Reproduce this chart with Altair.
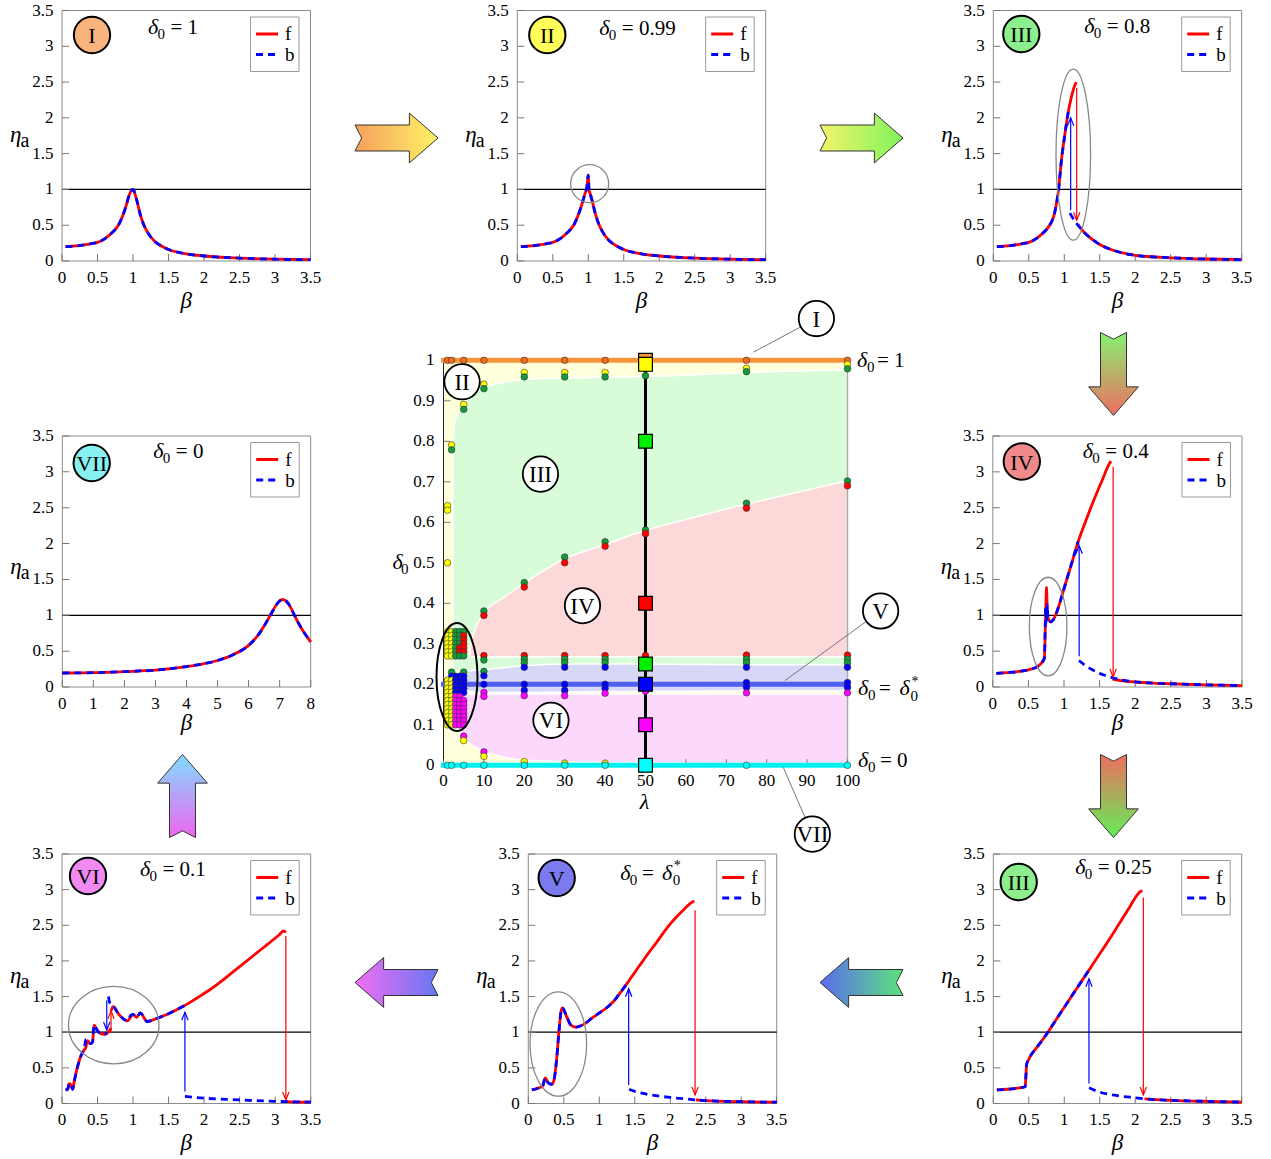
import altair as alt
import pandas as pd

W, H = 1271, 1159
SERIF = "Liberation Serif"
RED = "#ff0000"
BLUE = "#0000ff"
DASH = [7, 5]

ETA_TICKS = [0, 0.5, 1, 1.5, 2, 2.5, 3, 3.5]
BETA_TICKS = [0, 0.5, 1, 1.5, 2, 2.5, 3, 3.5]
BETA8_TICKS = [0, 1, 2, 3, 4, 5, 6, 7, 8]
LAM_TICKS = [0, 10, 20, 30, 40, 50, 60, 70, 80, 90, 100]
DEL_TICKS = [0, 0.1, 0.2, 0.3, 0.4, 0.5, 0.6, 0.7, 0.8, 0.9, 1]

# ---------------- amplitude response curves eta_a(beta) ----------------
# I : delta0 = 1 (forward and backward sweeps coincide)
p1_beta = [0.05, 0.2, 0.4, 0.5, 0.6, 0.7, 0.8, 0.85, 0.9, 0.95, 1.0, 1.05, 1.1, 1.15, 1.2, 1.3, 1.4, 1.5, 1.75, 2.0, 2.5, 3.0, 3.5]
p1_eta = [0.20, 0.21, 0.24, 0.26, 0.31, 0.39, 0.51, 0.62, 0.76, 0.93, 1.0, 0.86, 0.66, 0.51, 0.41, 0.28, 0.21, 0.16, 0.10, 0.07, 0.04, 0.025, 0.018]

# II : delta0 = 0.99
p2_beta = [0.05, 0.2, 0.4, 0.5, 0.6, 0.7, 0.8, 0.85, 0.9, 0.95, 0.98, 1.0, 1.01, 1.03, 1.05, 1.1, 1.15, 1.2, 1.3, 1.4, 1.5, 1.75, 2.0, 2.5, 3.0, 3.5]
p2_eta = [0.20, 0.21, 0.24, 0.26, 0.31, 0.39, 0.51, 0.62, 0.76, 0.93, 1.03, 1.2, 1.0, 0.93, 0.86, 0.66, 0.51, 0.41, 0.28, 0.21, 0.16, 0.10, 0.07, 0.04, 0.025, 0.018]

# III : delta0 = 0.8
p3_f1_beta = [0.05, 0.2, 0.4, 0.5, 0.6, 0.7, 0.8, 0.85, 0.89, 0.92, 0.96, 1.01, 1.056, 1.1, 1.15, 1.17]
p3_f1_eta = [0.20, 0.21, 0.24, 0.26, 0.31, 0.39, 0.51, 0.62, 0.80, 1.0, 1.41, 1.78, 2.08, 2.29, 2.46, 2.5]
p3_f2_beta = [1.19, 1.22, 1.3, 1.41, 1.5, 1.69, 2.0, 2.5, 3.0, 3.5]
p3_f2_eta = [0.51, 0.47, 0.38, 0.29, 0.23, 0.15, 0.08, 0.045, 0.028, 0.02]
p3_b1_beta = [0.05, 0.2, 0.4, 0.5, 0.6, 0.7, 0.8, 0.85, 0.89, 0.92, 0.96, 1.01, 1.056, 1.07]
p3_b1_eta = [0.20, 0.21, 0.24, 0.26, 0.31, 0.39, 0.51, 0.62, 0.80, 1.0, 1.41, 1.78, 2.08, 2.15]
p3_b2_beta = [1.08, 1.12, 1.17, 1.22, 1.3, 1.41, 1.5, 1.69, 2.0, 2.5, 3.0, 3.5]
p3_b2_eta = [0.67, 0.6, 0.53, 0.47, 0.38, 0.29, 0.23, 0.15, 0.08, 0.045, 0.028, 0.02]

# IV : delta0 = 0.4
p4_f1_beta = [0.05, 0.2, 0.4, 0.5, 0.6, 0.68, 0.72, 0.725, 0.755, 0.765, 0.78, 0.81, 0.85, 0.9, 0.95, 1.0, 1.1, 1.2, 1.3, 1.4, 1.5, 1.56, 1.6, 1.64, 1.66]
p4_f1_eta = [0.19, 0.2, 0.22, 0.24, 0.27, 0.33, 0.39, 0.42, 1.39, 1.05, 0.95, 0.91, 0.94, 1.05, 1.2, 1.37, 1.7, 2.03, 2.3, 2.56, 2.8, 2.94, 3.04, 3.12, 3.15]
p4_f2_beta = [1.68, 1.8, 2.0, 2.25, 2.5, 3.0, 3.5]
p4_f2_eta = [0.11, 0.09, 0.07, 0.055, 0.045, 0.03, 0.02]
p4_b1_beta = [0.05, 0.2, 0.4, 0.5, 0.6, 0.68, 0.72, 0.725, 0.745, 0.755, 0.765, 0.775, 0.79, 0.81, 0.85, 0.9, 0.95, 1.0, 1.1, 1.2]
p4_b1_eta = [0.19, 0.2, 0.22, 0.24, 0.27, 0.33, 0.39, 0.42, 1.12, 0.9, 1.15, 0.92, 0.92, 0.91, 0.94, 1.05, 1.2, 1.37, 1.7, 2.03]
p4_b2_beta = [1.21, 1.3, 1.4, 1.5, 1.6, 1.7, 1.8, 2.0, 2.25, 2.5, 3.0, 3.5]
p4_b2_eta = [0.37, 0.3, 0.24, 0.19, 0.155, 0.125, 0.1, 0.07, 0.055, 0.045, 0.03, 0.02]

# V : delta0 = delta0*
p5_f1_beta = [0.05, 0.15, 0.2, 0.24, 0.28, 0.33, 0.36, 0.4, 0.43, 0.465, 0.48, 0.54, 0.6, 0.67, 0.78, 0.9, 1.0, 1.1, 1.2, 1.3, 1.41, 1.5, 1.6, 1.7, 1.8, 1.9, 2.0, 2.1, 2.2, 2.3, 2.34]
p5_f1_eta = [0.19, 0.22, 0.24, 0.36, 0.29, 0.27, 0.32, 0.63, 0.99, 1.31, 1.34, 1.22, 1.1, 1.07, 1.11, 1.2, 1.27, 1.34, 1.43, 1.56, 1.71, 1.84, 1.98, 2.12, 2.25, 2.39, 2.52, 2.63, 2.73, 2.82, 2.84]
p5_f2_beta = [2.36, 2.5, 3.0, 3.5]
p5_f2_eta = [0.05, 0.04, 0.025, 0.018]
p5_b1_beta = [0.05, 0.15, 0.2, 0.24, 0.28, 0.33, 0.36, 0.4, 0.43, 0.465, 0.48, 0.54, 0.6, 0.67, 0.78, 0.9, 1.0, 1.1, 1.2, 1.3, 1.41]
p5_b1_eta = [0.19, 0.22, 0.24, 0.36, 0.29, 0.27, 0.32, 0.63, 0.99, 1.31, 1.34, 1.22, 1.1, 1.07, 1.11, 1.2, 1.27, 1.34, 1.43, 1.56, 1.71]
p5_b2_beta = [1.42, 1.5, 1.6, 1.8, 2.0, 2.2, 2.36, 2.5, 3.0, 3.5]
p5_b2_eta = [0.2, 0.17, 0.145, 0.11, 0.085, 0.065, 0.05, 0.04, 0.025, 0.018]

# VI : delta0 = 0.1
p6_f1_beta = [0.05, 0.08, 0.1, 0.12, 0.15, 0.17, 0.22, 0.28, 0.31, 0.33, 0.36, 0.4, 0.43, 0.45, 0.5, 0.55, 0.6, 0.65, 0.69]
p6_f1_eta = [0.19, 0.2, 0.28, 0.27, 0.2, 0.3, 0.52, 0.7, 0.75, 0.77, 0.88, 0.84, 0.86, 1.1, 1.02, 0.98, 0.97, 1.0, 1.06]
p6_f2_beta = [0.69, 0.72, 0.8, 0.92, 0.97, 1.0, 1.05, 1.1, 1.2, 1.35, 1.5, 1.72, 1.9, 2.1, 2.3, 2.5, 2.7, 2.9, 3.05, 3.12, 3.15]
p6_f2_eta = [1.3, 1.36, 1.25, 1.16, 1.22, 1.25, 1.21, 1.27, 1.15, 1.2, 1.26, 1.37, 1.48, 1.61, 1.76, 1.92, 2.08, 2.24, 2.36, 2.42, 2.4]
p6_f3_beta = [3.16, 3.3, 3.5]
p6_f3_eta = [0.025, 0.02, 0.018]
p6_b1_beta = [0.05, 0.08, 0.1, 0.12, 0.15, 0.17, 0.22, 0.28, 0.31, 0.34, 0.36, 0.4, 0.43, 0.45, 0.5, 0.55, 0.6, 0.63]
p6_b1_eta = [0.19, 0.2, 0.28, 0.27, 0.2, 0.3, 0.52, 0.7, 0.76, 0.9, 0.87, 0.84, 0.86, 1.1, 1.02, 0.98, 0.97, 1.0]
p6_b2_beta = [0.655, 0.67, 0.72, 0.8, 0.92, 0.97, 1.0, 1.05, 1.1, 1.2, 1.35, 1.5, 1.72]
p6_b2_eta = [1.5, 1.42, 1.37, 1.25, 1.16, 1.24, 1.25, 1.21, 1.27, 1.15, 1.2, 1.26, 1.37]
p6_b3_beta = [1.73, 2.0, 2.5, 3.0, 3.5]
p6_b3_eta = [0.1, 0.075, 0.05, 0.03, 0.02]

# VII : delta0 = 0
p7_beta = [0, 1, 2, 3, 4, 4.5, 5, 5.5, 6, 6.3, 6.5, 6.7, 6.9, 7.0, 7.1, 7.2, 7.3, 7.5, 7.7, 8.0]
p7_eta = [0.195, 0.2, 0.215, 0.235, 0.285, 0.32, 0.37, 0.45, 0.58, 0.72, 0.85, 1.0, 1.15, 1.2, 1.22, 1.2, 1.15, 0.98, 0.82, 0.63]

# III : delta0 = 0.25
p8_f1_beta = [0.05, 0.2, 0.3, 0.4, 0.45, 0.46, 0.47, 0.5, 0.52, 0.6, 0.77, 0.9, 1.1, 1.2, 1.3, 1.4, 1.5, 1.6, 1.76, 1.9, 2.04, 2.08, 2.1]
p8_f1_eta = [0.19, 0.2, 0.21, 0.225, 0.235, 0.4, 0.55, 0.62, 0.66, 0.77, 1.0, 1.2, 1.5, 1.65, 1.8, 1.95, 2.1, 2.25, 2.5, 2.72, 2.94, 2.98, 2.97]
p8_f2_beta = [2.13, 2.3, 2.5, 3.0, 3.5]
p8_f2_eta = [0.065, 0.055, 0.045, 0.03, 0.02]
p8_b1_beta = [0.05, 0.2, 0.3, 0.4, 0.45, 0.46, 0.47, 0.5, 0.52, 0.6, 0.77, 0.9, 1.1, 1.2, 1.3, 1.34]
p8_b1_eta = [0.19, 0.2, 0.21, 0.225, 0.235, 0.4, 0.55, 0.62, 0.66, 0.77, 1.0, 1.2, 1.5, 1.65, 1.8, 1.86]
p8_b2_beta = [1.35, 1.5, 1.75, 2.0, 2.13, 2.5, 3.0, 3.5]
p8_b2_eta = [0.22, 0.16, 0.11, 0.08, 0.065, 0.045, 0.03, 0.02]

# ---------------- regime map delta0(lambda) ----------------
green_lam = [2.3, 2.6, 3, 4, 5, 6, 8, 10, 15, 20, 30, 40, 50, 60, 75, 90, 100]
green_hi = [0.78, 0.83, 0.855, 0.875, 0.89, 0.902, 0.92, 0.933, 0.945, 0.952, 0.956, 0.958, 0.96, 0.963, 0.97, 0.974, 0.976]
red_lam = [6.5, 7, 8, 10, 15, 20, 30, 40, 50, 60, 75, 90, 100]
red_hi = [0.285, 0.31, 0.34, 0.375, 0.415, 0.45, 0.51, 0.545, 0.58, 0.607, 0.645, 0.68, 0.703]
blue_lam = [2, 5, 10, 20, 30, 40, 50, 60, 75, 90, 100]
blue_hi = [0.228, 0.232, 0.236, 0.246, 0.25, 0.25, 0.25, 0.249, 0.248, 0.248, 0.248]
blue_lo = [0.186, 0.184, 0.18, 0.18, 0.181, 0.182, 0.183, 0.183, 0.184, 0.184, 0.184]
mag_lam = [3, 5, 7, 10, 15, 20, 30, 40, 50, 75, 100]
mag_lo = [0.1, 0.068, 0.05, 0.035, 0.02, 0.013, 0.009, 0.007, 0.006, 0.005, 0.005]

dots_orange = [(1, 1), (2, 1), (5, 1), (10, 1), (20, 1), (30, 1), (40, 1), (50, 1), (75, 1), (100, 1)]
dots_yellow = [(1, .641), (1, .630), (1, .50), (2, .791), (5, .891), (10, .941), (20, .970), (30, .970),
               (40, .970), (75, .980), (100, .990), (5, .061), (10, .022), (20, .009), (30, .005), (40, .005)]
dots_green = [(2, .779), (5, .879), (10, .930), (20, .959), (30, .959), (40, .959), (50, .962), (75, .972), (100, .979),
              (10, .381), (20, .451), (30, .514), (40, .552), (50, .581), (75, .647), (100, .702),
              (10, .260), (10, .232), (20, .262), (20, .253), (30, .262), (30, .253), (40, .262), (40, .253),
              (75, .262), (75, .253), (100, .262), (100, .253)]
dots_red = [(10, .370), (20, .440), (30, .500), (40, .541), (50, .572), (75, .635), (100, .690),
            (10, .271), (20, .271), (30, .271), (40, .271), (50, .271), (75, .272), (100, .272)]
dots_blue = [(10, .221), (20, .242), (30, .242), (40, .242), (75, .242), (100, .242),
             (10, .200), (20, .200), (30, .200), (40, .200), (75, .204), (100, .204),
             (20, .185), (30, .185), (40, .190), (75, .193), (100, .193)]
dots_magenta = [(10, .180), (10, .170), (20, .172), (30, .172), (40, .178), (50, .183), (75, .179), (100, .179),
                (10, .033), (5, .072)]
dots_cyan = [(1, 0), (2, 0), (5, 0), (10, 0), (20, 0), (30, 0), (40, 0), (50, 0), (75, 0), (100, 0)]

# dense sweep at small lambda: delta0 rows sampled for lambda = 1..5
rows_top = [0.27, 0.28, 0.29, 0.30, 0.31, 0.32, 0.33]
rows_mid = [0.18, 0.19, 0.20, 0.21, 0.22]
rows_low = [0.10, 0.11, 0.12, 0.13, 0.14, 0.15, 0.16, 0.17]
C_OR, C_YE, C_GR, C_RE, C_BL, C_MA, C_CY = "#f26b1d", "#ffff00", "#139a3b", "#ff0000", "#0000ff", "#ff00ff", "#00ffff"
grid_cells = [
    (1, C_YE, rows_top + rows_low + [0.18, 0.19, 0.20, 0.21]),
    (2, C_YE, rows_top + rows_low + [0.18, 0.19, 0.20, 0.21]),
    (2, C_GR, [0.23]), (2, C_BL, [0.22]),
    (3, C_GR, rows_top), (3, C_BL, rows_mid), (3, C_MA, rows_low),
    (4, C_GR, [0.27, 0.30, 0.31, 0.32, 0.33]), (4, C_RE, [0.28, 0.29]), (4, C_BL, rows_mid), (4, C_MA, rows_low),
    (5, C_GR, [0.23, 0.27, 0.33]), (5, C_RE, [0.28, 0.29, 0.30, 0.31, 0.32]), (5, C_BL, rows_mid),
    (5, C_MA, [0.10, 0.11, 0.12, 0.13, 0.14, 0.15, 0.16]),
]

# operating points along lambda = 50
sq_delta = [1.0, 0.99, 0.8, 0.4, 0.25, 0.2, 0.1, 0.0]
sq_color = ["#f7963c", "#ffff00", "#00ee00", "#ff0000", "#00ee00", "#0000ff", "#ff00ff", "#00ffff"]

# ---------------- panel descriptions ----------------
PANELS = [
    dict(box=(62.0, 310.5, 10.5, 261.0), xmax=3.5, row=0, num="I", numfill="#f9b37d", circ=(30, 24.5),
         dlab=(86, 23.5), rhs="= 1", f=[(p1_beta, p1_eta)], b=[(p1_beta, p1_eta)], jumps=[], ring=None),
    dict(box=(517.3, 765.7, 10.5, 261.0), xmax=3.5, row=0, num="II", numfill="#ffff5a", circ=(30, 24.5),
         dlab=(82, 24), rhs="= 0.99", f=[(p2_beta, p2_eta)], b=[(p2_beta, p2_eta)], jumps=[],
         ring=(1.02, 1.08, 19, 19)),
    dict(box=(993.3, 1241.7, 10.5, 261.0), xmax=3.5, row=0, num="III", numfill="#8cee8c", circ=(28, 23.5),
         dlab=(91, 22), rhs="= 0.8", f=[(p3_f1_beta, p3_f1_eta), (p3_f2_beta, p3_f2_eta)],
         b=[(p3_b1_beta, p3_b1_eta), (p3_b2_beta, p3_b2_eta)],
         jumps=[(1.175, 2.42, 0.57, RED), (1.09, 0.71, 2.0, BLUE)], ring=(1.127, 1.487, 17.3, 85.5)),
    dict(box=(62.3, 310.7, 436.0, 687.0), xmax=8, row=1, num="VII", numfill="#88f0f0", circ=(29.4, 27),
         dlab=(91, 21.6), rhs="= 0", f=[(p7_beta, p7_eta)], b=[(p7_beta, p7_eta)], jumps=[], ring=None),
    dict(box=(992.8, 1242.0, 436.0, 687.0), xmax=3.5, row=1, num="IV", numfill="#f08a8a", circ=(29, 25.5),
         dlab=(90, 21.6), rhs="= 0.4", f=[(p4_f1_beta, p4_f1_eta), (p4_f2_beta, p4_f2_eta)],
         b=[(p4_b1_beta, p4_b1_eta), (p4_b2_beta, p4_b2_eta)],
         jumps=[(1.69, 3.07, 0.14, RED), (1.213, 0.43, 1.97, BLUE)], ring=(0.777, 0.843, 18.8, 49.3)),
    dict(box=(62.0, 310.7, 854.0, 1103.5), xmax=3.5, row=2, num="VI", numfill="#f08af0", circ=(26, 22),
         dlab=(78, 21.7), rhs="= 0.1",
         f=[(p6_f1_beta, p6_f1_eta), (p6_f2_beta, p6_f2_eta), (p6_f3_beta, p6_f3_eta)],
         b=[(p6_b1_beta, p6_b1_eta), (p6_b2_beta, p6_b2_eta), (p6_b3_beta, p6_b3_eta)],
         jumps=[(3.15, 2.35, 0.05, RED), (0.69, 1.0, 1.3, RED), (1.73, 0.17, 1.28, BLUE), (0.63, 1.45, 1.03, BLUE)],
         ring=(0.728, 1.099, 45.3, 38.7)),
    dict(box=(528.3, 776.7, 854.0, 1103.5), xmax=3.5, row=2, num="V", numfill="#7b7bef", circ=(28.4, 24),
         dlab=(92, 26), rhs="STAR", f=[(p5_f1_beta, p5_f1_eta), (p5_f2_beta, p5_f2_eta)],
         b=[(p5_b1_beta, p5_b1_eta), (p5_b2_beta, p5_b2_eta)],
         jumps=[(1.414, 0.26, 1.61, BLUE), (2.35, 2.71, 0.12, RED)], ring=(0.423, 0.835, 28.3, 52.2)),
    dict(box=(993.3, 1241.7, 854.0, 1103.5), xmax=3.5, row=2, num="III", numfill="#8cee8c", circ=(25.4, 28),
         dlab=(82, 20.3), rhs="= 0.25", f=[(p8_f1_beta, p8_f1_eta), (p8_f2_beta, p8_f2_eta)],
         b=[(p8_b1_beta, p8_b1_eta), (p8_b2_beta, p8_b2_eta)],
         jumps=[(2.114, 2.89, 0.12, RED), (1.348, 0.28, 1.75, BLUE)], ring=None),
]
ROW_ETA_BASE = [142.2, 573.8, 983.0]
ROW_BETA_BASE = [308.0, 730.0, 1150.0]

HEAD_DOWN = "M -0.4,-1 L 0,0 L 0.4,-1"
HEAD_UP = "M -0.4,1 L 0,0 L 0.4,1"
ARROW = "M -1,-0.313 L 0.31,-0.313 L 0.31,-0.6 L 1,0 L 0.31,0.6 L 0.31,0.313 L -1,0.313 L -0.84,0 Z"


def ellipse_shape(rx, ry):
    m = max(rx, ry)
    a, b = rx / m, ry / m
    path = f"M {-a:.4f},0 A {a:.4f},{b:.4f} 0 1,0 {a:.4f},0 A {a:.4f},{b:.4f} 0 1,0 {-a:.4f},0 Z"
    return path, (2 * m) ** 2


def curve_frame(segments):
    rows = []
    for k, (bs, es) in enumerate(segments):
        for j, (bv, ev) in enumerate(zip(bs, es)):
            rows.append({"beta": bv, "eta": ev, "seg": k, "i": j})
    return pd.DataFrame(rows)


def tick_frame(values):
    return pd.DataFrame({"v": values, "z": 0, "t": [f"{v:g}" for v in values]})


def axis_layers(X, Y, xticks, yticks, xpad, ypad, xlen, ylen):
    """Inward tick marks plus tick labels placed through the panel scales."""
    xdf, ydf = tick_frame(xticks), tick_frame(yticks)
    return [
        alt.Chart(xdf).mark_tick(orient="vertical", size=xlen, thickness=1, color="#777777",
                                 yOffset=-xlen / 2, opacity=1).encode(x=X("v"), y=Y("z")),
        alt.Chart(ydf).mark_tick(orient="horizontal", size=ylen, thickness=1, color="#777777",
                                 xOffset=ylen / 2, opacity=1).encode(y=Y("v"), x=X("z")),
        alt.Chart(xdf).mark_text(font=SERIF, fontSize=17, align="center", baseline="top", dy=xpad,
                                 color="black").encode(x=X("v"), y=Y("z"), text="t:N"),
        alt.Chart(ydf).mark_text(font=SERIF, fontSize=17, align="right", baseline="middle", dx=-ypad,
                                 color="black").encode(x=X("z"), y=Y("v"), text="t:N"),
    ]


def build_panel(p):
    x0, x1, yt, yb = p["box"]
    xmax = p["xmax"]
    xticks = BETA8_TICKS if xmax == 8 else BETA_TICKS
    xs = alt.Scale(domain=[0, xmax], range=[x0, x1], nice=False, zero=False)
    ys = alt.Scale(domain=[0, 3.5], range=[yb, yt], nice=False, zero=False)

    def X(f):
        return alt.X(f, type="quantitative", scale=xs, axis=None)

    def Y(f):
        return alt.Y(f, type="quantitative", scale=ys, axis=None)

    frame = alt.Chart(pd.DataFrame({"a": [0], "b": [xmax], "c": [0], "d": [3.5]})).mark_rect(
        fillOpacity=0, stroke="#8c8c8c", strokeWidth=1).encode(x=X("a"), x2="b", y=Y("c"), y2="d")
    unity = alt.Chart(pd.DataFrame({"a": [0], "b": [xmax], "c": [1]})).mark_rule(
        color="black", strokeWidth=1.2).encode(x=X("a"), x2="b", y=Y("c"))
    # every branch is sampled with increasing beta, so a monotone spline keeps it smooth
    fwd = alt.Chart(curve_frame(p["f"])).mark_line(color=RED, strokeWidth=2.8, interpolate="monotone").encode(
        x=X("beta"), y=Y("eta"), detail="seg:N", order="i:Q")
    bwd = alt.Chart(curve_frame(p["b"])).mark_line(
        color=BLUE, strokeWidth=2.8, strokeDash=DASH, interpolate="monotone").encode(
        x=X("beta"), y=Y("eta"), detail="seg:N", order="i:Q")
    layers = [frame, unity] + axis_layers(X, Y, xticks, ETA_TICKS, 8.5, 8.5, 7, 7) + [fwd, bwd]

    if p["jumps"]:
        jd = pd.DataFrame(p["jumps"], columns=["beta", "e0", "e1", "col"])
        layers.append(alt.Chart(jd).mark_rule(strokeWidth=1.2).encode(
            x=X("beta"), y=Y("e0"), y2="e1", color=alt.Color("col:N", scale=None)))
        for sub, shp in ((jd[jd.e1 < jd.e0], HEAD_DOWN), (jd[jd.e1 > jd.e0], HEAD_UP)):
            if len(sub):
                layers.append(alt.Chart(sub.reset_index(drop=True)).mark_point(
                    shape=shp, size=256, filled=False, strokeWidth=1.2, opacity=1
                ).encode(x=X("beta"), y=Y("e1"), color=alt.Color("col:N", scale=None)))
    if p["ring"]:
        rb, re_, rx, ry = p["ring"]
        path, size = ellipse_shape(rx, ry)
        layers.append(alt.Chart(pd.DataFrame({"beta": [rb], "eta": [re_]})).mark_point(
            shape=path, size=size, filled=False, color="#888888", strokeWidth=1.3, opacity=1
        ).encode(x=X("beta"), y=Y("eta")))
    return alt.layer(*layers)


# ---------------- central regime map ----------------
def build_map():
    xs = alt.Scale(domain=[0, 100], range=[443.5, 847.5], nice=False, zero=False)
    ys = alt.Scale(domain=[0, 1], range=[765.3, 360.3], nice=False, zero=False)

    def X(f):
        return alt.X(f, type="quantitative", scale=xs, axis=None)

    def Y(f):
        return alt.Y(f, type="quantitative", scale=ys, axis=None)

    one = lambda **kw: pd.DataFrame({k: [v] for k, v in kw.items()})
    layers = []
    layers.append(alt.Chart(one(a=0, b=100, c=0, d=1)).mark_rect(color="#ffffdc").encode(
        x=X("a"), x2="b", y=Y("c"), y2="d"))
    for lam, hi, lo, col in (
        (green_lam, green_hi, [0.2] * len(green_lam), "#d8fbd8"),
        (red_lam, red_hi, [0.268] * len(red_lam), "#fcd8d8"),
        (blue_lam, blue_hi, blue_lo, "#d7d8f8"),
        (mag_lam, [0.176] * len(mag_lam), mag_lo, "#fcd9fc"),
    ):
        layers.append(alt.Chart(pd.DataFrame({"lam": lam, "hi": hi, "lo": lo})).mark_area(
            color=col, stroke="white", strokeWidth=1.5, opacity=1, interpolate="monotone"
        ).encode(x=X("lam"), y=Y("hi"), y2="lo"))
    # right border and left axis line
    layers.append(alt.Chart(one(a=100, c=0, d=1)).mark_rule(color="#aaaaaa", strokeWidth=1.5).encode(
        x=X("a"), y=Y("c"), y2="d"))
    layers.append(alt.Chart(one(a=0, c=0, d=1)).mark_rule(color="#222222", strokeWidth=1).encode(
        x=X("a"), y=Y("c"), y2="d"))
    layers += axis_layers(X, Y, LAM_TICKS, DEL_TICKS, 8, 9, 6, 7)
    # limiting cases delta0 = 1, delta0*, 0
    for d, col in ((1, "#f7953b"), (0.2, "#4f5ff0"), (0, "#00f0f0")):
        layers.append(alt.Chart(one(a=-0.6, b=100, c=d)).mark_rule(color=col, strokeWidth=5).encode(
            x=X("a"), x2="b", y=Y("c")))
    layers.append(alt.Chart(one(a=50, c=0, d=1)).mark_rule(color="black", strokeWidth=3).encode(
        x=X("a"), y=Y("c"), y2="d"))

    rows = []
    for col, pts in ((C_OR, dots_orange), (C_YE, dots_yellow), (C_GR, dots_green), (C_RE, dots_red),
                     (C_BL, dots_blue), (C_MA, dots_magenta), (C_CY, dots_cyan)):
        rows += [dict(lam=l, dl=d, col=col) for l, d in pts]
    for lam, col, ds in grid_cells:
        rows += [dict(lam=lam, dl=d, col=col) for d in ds]
    dots = pd.DataFrame(rows).sort_values("dl", ascending=False, kind="stable").reset_index(drop=True)
    dots["k"] = range(len(dots))
    layers.append(alt.Chart(dots).mark_point(
        shape="circle", filled=True, size=44, stroke="#333333", strokeWidth=0.6, opacity=1
    ).encode(x=X("lam"), y=Y("dl"), fill=alt.Fill("col:N", scale=None), order="k:Q"))

    sq = pd.DataFrame({"lam": 50, "dl": sq_delta, "col": sq_color})
    layers.append(alt.Chart(sq).mark_point(
        shape="square", filled=True, size=190, stroke="black", strokeWidth=1.2, opacity=1
    ).encode(x=X("lam"), y=Y("dl"), fill=alt.Fill("col:N", scale=None)))

    leaders = pd.DataFrame({"l0": [92.3, 108.2, 91.3], "d0": [1.103, 0.381, -0.17],
                            "l1": [76.7, 84.5, 84.1], "d1": [1.02, 0.209, -0.005]})
    layers.append(alt.Chart(leaders).mark_rule(color="#777777", strokeWidth=1).encode(
        x=X("l0"), y=Y("d0"), x2="l1", y2="d1"))

    path, size = ellipse_shape(20.5, 54)
    layers.append(alt.Chart(one(lam=3.34, dl=0.218)).mark_point(
        shape=path, size=size, filled=False, color="black", strokeWidth=2, opacity=1
    ).encode(x=X("lam"), y=Y("dl")))

    labels = pd.DataFrame({"lam": [4.6, 24.0, 34.4, 26.6, 92.3, 108.2, 91.3],
                           "dl": [0.947, 0.719, 0.394, 0.111, 1.103, 0.381, -0.17],
                           "t": ["II", "III", "IV", "VI", "I", "V", "VII"]})
    layers.append(alt.Chart(labels).mark_point(
        shape="circle", filled=True, size=1250, color="white", stroke="black", strokeWidth=1.8, opacity=1
    ).encode(x=X("lam"), y=Y("dl")))
    layers.append(alt.Chart(labels).mark_text(
        font=SERIF, fontSize=23, align="center", baseline="middle", color="black", dy=1
    ).encode(x=X("lam"), y=Y("dl"), text="t:N"))
    return alt.layer(*layers)


# ---------------- figure-level annotations (pixel positions) ----------------
TEXT_ROWS, CIRCLE_ROWS, BOX_ROWS, LEG_F, LEG_B = [], [], [], [], []


def txt(px, py, t, fs, italic=False, align="left", base="alphabetic"):
    TEXT_ROWS.append(dict(px=px, py=py, t=t, fs=fs, st="italic" if italic else "normal", al=align, bl=base))


for p in PANELS:
    x0, x1, yt, yb = p["box"]
    cx, cy = p["circ"]
    CIRCLE_ROWS.append(dict(px=x0 + cx, py=yt + cy, fill=p["numfill"]))
    txt(x0 + cx, yt + cy + 1, p["num"], 22, align="center", base="middle")
    dx, db = p["dlab"]
    base = yt + db
    txt(x0 + dx, base, "δ", 22, italic=True)
    txt(x0 + dx + 9.5, base + 5, "0", 15)
    if p["rhs"] == "STAR":
        txt(x0 + dx + 21.7, base, "=", 21)
        txt(x0 + dx + 41.7, base, "δ", 22, italic=True)
        txt(x0 + dx + 52.5, base + 5, "0", 15)
        txt(x0 + dx + 53.5, base - 10, "*", 14)
    else:
        txt(x0 + dx + 22.5, base, p["rhs"], 21)
    BOX_ROWS.append(dict(a=x1 - 60, b=x1 - 11.5, c=yt + 6.5, d=yt + 61))
    LEG_F.append(dict(a=x1 - 54.5, b=x1 - 32.5, c=yt + 23.5))
    LEG_B.append(dict(a=x1 - 54.5, b=x1 - 32.5, c=yt + 44))
    txt(x1 - 25.5, yt + 29.5, "f", 19)
    txt(x1 - 25.5, yt + 50.5, "b", 19)
    eb = ROW_ETA_BASE[p["row"]]
    txt(x0 - 52, eb, "η", 23, italic=True)
    txt(x0 - 41.5, eb + 5, "a", 20)
    txt((x0 + x1) / 2, ROW_BETA_BASE[p["row"]], "β", 23, italic=True, align="center")

# regime map titles and boundary labels
txt(392.5, 569, "δ", 22, italic=True)
txt(401, 574, "0", 15)
txt(644.5, 809, "λ", 22, italic=True, align="center")
txt(857, 367, "δ", 22, italic=True)
txt(867, 372, "0", 15)
txt(877, 367, "= 1", 21)
txt(858, 695, "δ", 22, italic=True)
txt(868, 700, "0", 15)
txt(879, 695, "=", 21)
txt(899.5, 695, "δ", 22, italic=True)
txt(910.5, 701, "0", 15)
txt(911.5, 686, "*", 14)
txt(858, 767, "δ", 22, italic=True)
txt(868, 772, "0", 15)
txt(880, 767, "= 0", 21)

PX = lambda f: alt.X(f, type="quantitative", scale=None, axis=None)
PY = lambda f: alt.Y(f, type="quantitative", scale=None, axis=None)

annot = []
# block arrows between panels: (x, y, angle, tail colour, head colour)
ARROWS = [
    (396.5, 138.0, 0, "#f6a05c", "#fff366"),
    (861.5, 138.0, 0, "#f2f46a", "#80f45c"),
    (1113.5, 374.0, 90, "#86f272", "#ee6e60"),
    (1113.5, 796.0, 90, "#ee6e60", "#62ee58"),
    (861.5, 982.5, 180, "#5de27c", "#5a6cf0"),
    (396.5, 982.5, 180, "#6677f2", "#f26ef2"),
    (182.5, 796.0, 270, "#ee66ee", "#80dcff"),
]
for ax_, ay_, ang, c0, c1 in ARROWS:
    grad = alt.LinearGradient(gradient="linear", x1=0, x2=1, y1=0, y2=0,
                              stops=[alt.GradientStop(color=c0, offset=0), alt.GradientStop(color=c1, offset=1)])
    annot.append(alt.Chart(pd.DataFrame({"px": [ax_], "py": [ay_]})).mark_point(
        shape=ARROW, size=6889, filled=True, fill=grad, stroke="#333333", strokeWidth=1, opacity=1, angle=ang
    ).encode(x=PX("px"), y=PY("py")))

annot.append(alt.Chart(pd.DataFrame(BOX_ROWS)).mark_rect(
    fill="white", stroke="#999999", strokeWidth=1).encode(x=PX("a"), x2="b", y=PY("c"), y2="d"))
annot.append(alt.Chart(pd.DataFrame(LEG_F)).mark_rule(color=RED, strokeWidth=3).encode(
    x=PX("a"), x2="b", y=PY("c")))
annot.append(alt.Chart(pd.DataFrame(LEG_B)).mark_rule(color=BLUE, strokeWidth=3, strokeDash=DASH).encode(
    x=PX("a"), x2="b", y=PY("c")))
annot.append(alt.Chart(pd.DataFrame(CIRCLE_ROWS)).mark_point(
    shape="circle", filled=True, size=1320, stroke="black", strokeWidth=2, opacity=1
).encode(x=PX("px"), y=PY("py"), fill=alt.Fill("fill:N", scale=None)))

tdf = pd.DataFrame(TEXT_ROWS)
for (st, al, bl), sub in tdf.groupby(["st", "al", "bl"]):
    annot.append(alt.Chart(sub.reset_index(drop=True)).mark_text(
        font=SERIF, fontStyle=st, align=al, baseline=bl, color="black"
    ).encode(x=PX("px"), y=PY("py"), text="t:N", size=alt.Size("fs:Q", scale=None, legend=None)))

chart = alt.layer(
    *[build_panel(p) for p in PANELS], build_map(), *annot
).resolve_scale(x="independent", y="independent").properties(
    width=W, height=H, padding=0, autosize=alt.AutoSizeParams(type="none")
).configure_view(stroke=None)

chart.save("out.html", embed_options={"renderer": "svg", "actions": False})
